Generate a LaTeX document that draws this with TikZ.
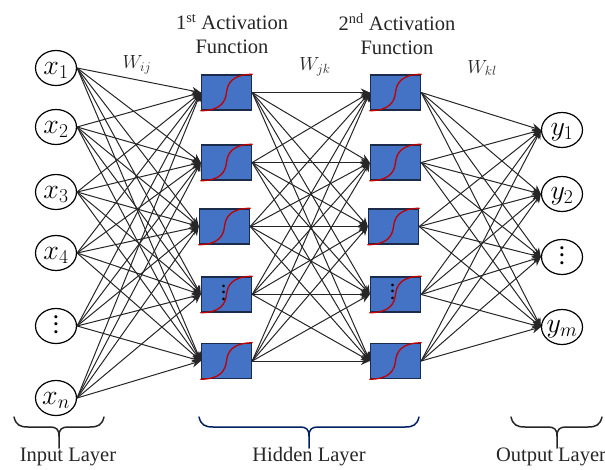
\RequirePackage{fix-cm}
\documentclass[tikz,border=0pt]{standalone}
\usepackage{amsmath}
\usepackage{fontspec}
\setmainfont{Liberation Serif}
\usetikzlibrary{shapes.geometric}
\usetikzlibrary{arrows.meta}
\definecolor{boxblue}{HTML}{4472C4}
\definecolor{boxedge}{HTML}{1C2B4A}
\definecolor{curvered}{HTML}{C00000}
\definecolor{bracenavy}{HTML}{002060}
\tikzstyle{neuron} = [ellipse, draw=black, line width=1.2pt, minimum width=41pt, minimum height=35pt, inner sep=0pt, font=\fontsize{28}{30}\selectfont]
\tikzstyle{actbox} = [rectangle, draw=boxedge, line width=1.4pt, fill=boxblue, minimum width=50pt, minimum height=35pt, inner sep=0pt]
\tikzstyle{sigmoid} = [draw=curvered, line width=1.3pt, line cap=round]
\tikzstyle{arrow} = [draw=black!85, line width=1pt, -{Stealth[length=9pt,width=8pt]}]
\tikzstyle{layertext} = [font=\fontsize{20.5}{24}\selectfont, text=black!85, inner sep=0pt]
\tikzstyle{weight} = [font=\fontsize{19}{22}\selectfont, text=black!85, inner sep=0pt]
\tikzstyle{dots} = [inner sep=0pt]
\tikzstyle{brace} = [line width=1.5pt, line cap=round]
% text of no size, dropped from the node centre
\newcommand{\flattext}[2]{\raisebox{#1}[0pt][0pt]{\makebox[0pt]{#2}}}
\newcommand{\thickdots}[1]{\scalebox{#1}{\bfseries$\vdots$}}
% brace: left end, middle, right end, colour
\newcommand{\layerbrace}[4]{
  \draw[brace,draw=#4] (#1,417) .. controls (#1+2,425) and (#1+6,427) .. (#1+14,427)
    -- (#2-9,427) .. controls (#2-3,427) and (#2,429) .. (#2,436) -- (#2,448);
  \draw[brace,draw=#4] (#3,417) .. controls (#3-2,425) and (#3-6,427) .. (#3-14,427)
    -- (#2+9,427) .. controls (#2+3,427) and (#2,429) .. (#2,436);
}
\begin{document}
\begin{tikzpicture}[x=1pt,y=-1pt]
  \useasboundingbox (0,0) rectangle (605,469);
  % input layer
  \foreach \name/\ypos/\txt in {x1/68/x_1,x2/127/x_2,x3/192/x_3,x4/253/x_4,xn/398/x_n}
    \node[neuron] (\name) at (56,\ypos) {\flattext{-6pt}{$\txt$}};
  \node[neuron,font=\normalsize] (xdots) at (56,326) {\flattext{-7.5pt}{\thickdots{1.9}}};
  % hidden layers
  \foreach \name/\xpos/\ypos in {a1/226.5/92.5,a2/226.5/162.5,a3/224.5/226.5,a4/226.5/294.5,a5/226.5/361,
                                 b1/395.5/92.5,b2/395.5/162.5,b3/393.5/226.5,b4/395.5/294.5,b5/395.5/361} {
    \node[actbox] (\name) at (\xpos,\ypos) {};
    \draw[sigmoid] (\name.south west) .. controls +(20,0) and +(-1,9) .. (\name.center)
      .. controls +(1,-9) and +(-20,0) .. (\name.north east);
  }
  \node[dots] (adots) at (223.5,293.5) {\flattext{-6.5pt}{\thickdots{1.6}}};
  \node[dots] (bdots) at (392.5,292.5) {\flattext{-6.5pt}{\thickdots{1.6}}};
  % output layer
  \foreach \name/\ypos/\txt in {y1/130/y_1,y2/194/y_2,ym/327/y_m}
    \node[neuron] (\name) at (562,\ypos) {\flattext{-5pt}{$\txt$}};
  \node[neuron,font=\normalsize] (ydots) at (562,257) {\flattext{-7.5pt}{\thickdots{1.9}}};
  % connections
  \foreach \src in {x1,x2,x3,x4,xdots,xn}
    \foreach \dst in {a1,a2,a3,a4,a5}
      \draw[arrow] (\src.east) -- (\dst.west);
  \foreach \src in {a1,a2,a3,a4,a5}
    \foreach \dst in {b1,b2,b3,b4,b5}
      \draw[arrow] (\src.east) -- (\dst.west);
  \foreach \src in {b1,b2,b3,b4,b5}
    \foreach \dst in {y1,y2,ydots,ym}
      \draw[arrow] (\src.east) -- (\dst.west);
  % labels
  \node[layertext,align=center] (acttext1) at (232,34) {1\textsuperscript{st} Activation\\Function};
  \node[layertext,align=center] (acttext2) at (397,34) {2\textsuperscript{nd} Activation\\Function};
  \node[weight] (wij) at (137,65) {$W_{ij}$};
  \node[weight] (wjk) at (315,67) {$W_{jk}$};
  \node[weight] (wkl) at (482,68) {$W_{kl}$};
  \layerbrace{14}{59}{104}{black!85}
  \layerbrace{199}{309}{419}{bracenavy}
  \layerbrace{511}{557}{602}{black!85}
  \node[layertext] (inputtext) at (68,457) {Input Layer};
  \node[layertext] (hiddentext) at (309,457) {Hidden Layer};
  \node[layertext] (outputtext) at (551,457) {Output Layer};
\end{tikzpicture}
\end{document}
